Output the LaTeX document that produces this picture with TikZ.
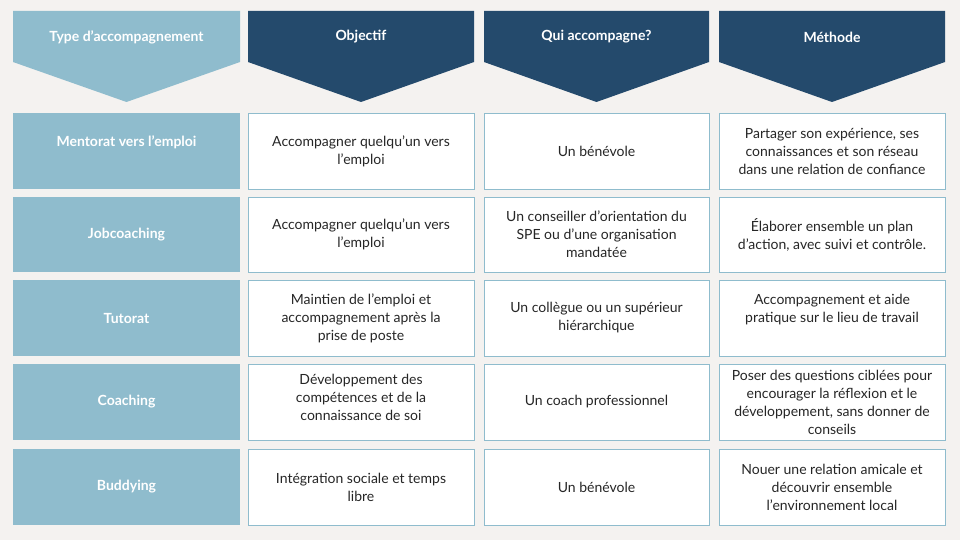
\documentclass[tikz,border=0pt]{standalone}
\usepackage{fontspec}
\setmainfont{Lato}
\definecolor{bg}{HTML}{F4F2F0}
\definecolor{lb}{HTML}{8FBCCD}
\definecolor{db}{HTML}{244A6C}
\begin{document}
\begin{tikzpicture}[x=1pt,y=-1pt,
  hdr/.style={font=\fontsize{14}{17}\selectfont\bfseries,text=white,align=center},
  typ/.style={fill=lb,font=\fontsize{14}{17}\selectfont\bfseries,text=white,align=center},
  cel/.style={fill=white,draw=lb,line width=0.8pt,font=\fontsize{14}{18}\selectfont,text=black!85,align=center}]
\fill[bg] (0,0) rectangle (960,540);
\useasboundingbox (0,0) rectangle (960,540);
% headers
\foreach \xa/\xb/\c/\t/\n in {13/240/lb/{Type d’accompagnement}/h1,248/474/db/Objectif/h2,484/709/db/{Qui accompagne?}/h3,719/945/db/Méthode/h4}{
  \fill[\c] (\xa,11) -- (\xb,11) -- (\xb,62) -- ({(\xa+\xb)/2},102) -- (\xa,62) -- cycle;
  \node[hdr] (\n) at ({(\xa+\xb)/2},37) {\t};
}
% rows
\foreach \ya/\yb/\r/\a/\b/\cc/\d in {
 113/189/1/{Mentorat vers l’emploi\\[2pt]}/{Accompagner quelqu’un vers\\l’emploi}/{Un bénévole}/{Partager son expérience, ses\\connaissances et son réseau\\dans une relation de confiance},
 197/272/2/Jobcoaching/{Accompagner quelqu’un vers\\l’emploi}/{Un conseiller d’orientation du\\SPE ou d’une organisation\\mandatée}/{Élaborer ensemble un plan\\d’action, avec suivi et contrôle.},
 280/356/3/Tutorat/{Maintien de l’emploi et\\accompagnement après la\\prise de poste}/{Un collègue ou un supérieur\\hiérarchique}/{Accompagnement et aide\\pratique sur le lieu de travail\\[2pt]},
 364/440/4/Coaching/{Développement des\\compétences et de la\\connaissance de soi\\[-8pt]}/{Un coach professionnel}/{Poser des questions ciblées pour\\encourager la réflexion et le\\développement, sans donner de\\conseils},
 449/525/5/Buddying/{Intégration sociale et temps\\libre}/{Un bénévole}/{Nouer une relation amicale et\\découvrir ensemble\\l’environnement local}}{
  \node[typ,minimum width=227,minimum height={\yb-\ya}] (t\r) at (126.5,{(\ya+\yb)/2}) {\a};
  \node[cel,minimum width=226,minimum height={\yb-\ya}] (o\r) at (361,{(\ya+\yb)/2}) {\b};
  \node[cel,minimum width=225,minimum height={\yb-\ya}] (q\r) at (596.5,{(\ya+\yb)/2}) {\cc};
  \node[cel,minimum width=226,minimum height={\yb-\ya}] (m\r) at (832,{(\ya+\yb)/2}) {\d};
}
\end{tikzpicture}
\end{document}
